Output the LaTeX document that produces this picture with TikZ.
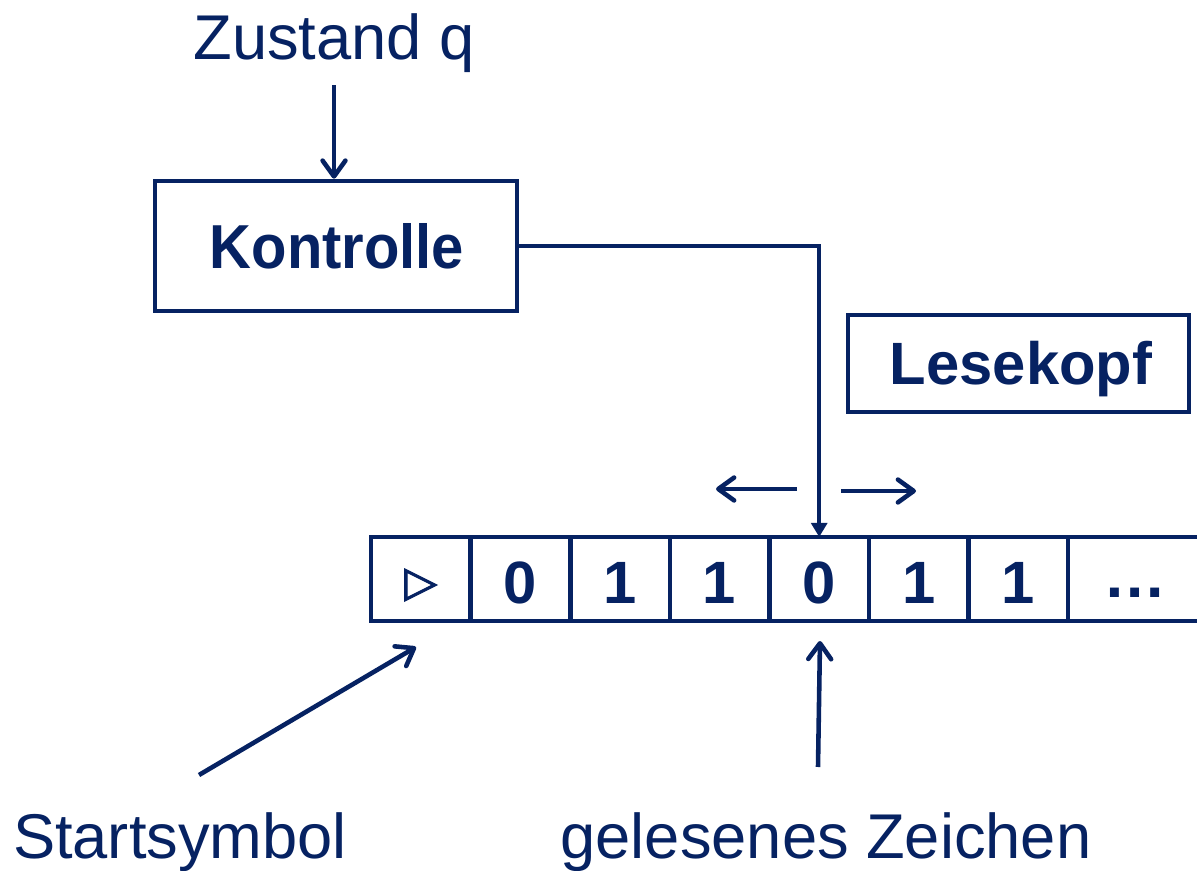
\documentclass[tikz,border=0pt]{standalone}
\usepackage{fontspec}
\setmainfont{Liberation Sans}
\newfontfamily\symfont[FakeBold=2.5]{DejaVu Sans}
\usetikzlibrary{arrows.meta}
\definecolor{navy}{RGB}{6,34,98}
\begin{document}
\begin{tikzpicture}[x=0.02cm, y=-0.02cm, line width=2.6pt, draw=navy,
  lbl/.style={text=navy, inner sep=0pt, font=\fontsize{36}{40}\selectfont},
  boxtext/.style={text=navy, font=\bfseries\fontsize{34}{40}\selectfont},
  box/.style={draw=navy, line width=2.6pt, inner sep=0pt},
  cell/.style={draw=navy, line width=2.6pt, inner sep=0pt, outer sep=0pt,
    minimum width=1.992cm, minimum height=1.68cm},
  digit/.style={text=navy, inner sep=0pt, anchor=base, font=\bfseries\fontsize{34}{40}\selectfont},
  barb/.style={-{Straight Barb[length=9pt, width=13pt, line cap=round, line join=round]}},
  tri/.style={-{Triangle[length=8pt, width=9pt]}}]
\useasboundingbox (0,0) rectangle (1197,871);

% control unit and read head
\node[box, minimum width=7.24cm, minimum height=2.6cm] (ctrl) at (336,246) {};
\node[boxtext, anchor=base] (ctrltext) at (337,269) {\scalebox{0.97}[1.04]{Kontrolle}};
\node[box, minimum width=6.82cm, minimum height=1.94cm] (head) at (1018.5,363.5) {};
\node[boxtext, anchor=base] (headtext) at (1021,385) {Lesekopf};

% state label
\node[lbl, anchor=base] (zq) at (334,60) {Zustand q};
\draw[barb] ([yshift=-0.2cm]zq.south) -- (ctrl.north -| zq.south);

% tape cells
\node[cell] (c0) at (420.8,579) {};
\foreach \i/\s in {1/0,2/1,3/1,4/0,5/1,6/1} {
  \node[cell] (c\i) at ({420.8+99.6*\i},579) {};
  \node[digit] (d\i) at ({420.8+99.6*\i},603) {\s};
}
\node[text=navy, inner sep=0pt, font=\symfont\fontsize{24}{30}\selectfont] (start) at (420.8,585) {▷};
\node[digit, font=\bfseries\fontsize{36}{40}\selectfont] (c7) at (1135,597) {…};
\coordinate (tapeend) at (1199,579);
\draw (c6.north east) -- (c6.north east -| tapeend);
\draw (c6.south east) -- (c6.south east -| tapeend);

% connection from control to the head position
\draw[tri] (ctrl.east) -| (c4.north);

% movement directions
\coordinate (lfrom) at (797,489);
\coordinate (lto) at (716,489);
\coordinate (rfrom) at (841,491);
\coordinate (rto) at (916,491);
\draw[barb] (lfrom) -- (lto);
\draw[barb] (rfrom) -- (rto);

% bottom labels
\node[lbl, anchor=base] (sslbl) at (180,858) {Startsymbol};
\node[lbl, anchor=base] (gzlbl) at (826,858) {gelesenes Zeichen};
\coordinate (ssfrom) at (199,775);
\coordinate (ssto) at (416,647);
\coordinate (gzfrom) at (818,767);
\coordinate (gzto) at (820,641);
\draw[barb] (ssfrom) -- (ssto);
\draw[barb] (gzfrom) -- (gzto);
\end{tikzpicture}
\end{document}
